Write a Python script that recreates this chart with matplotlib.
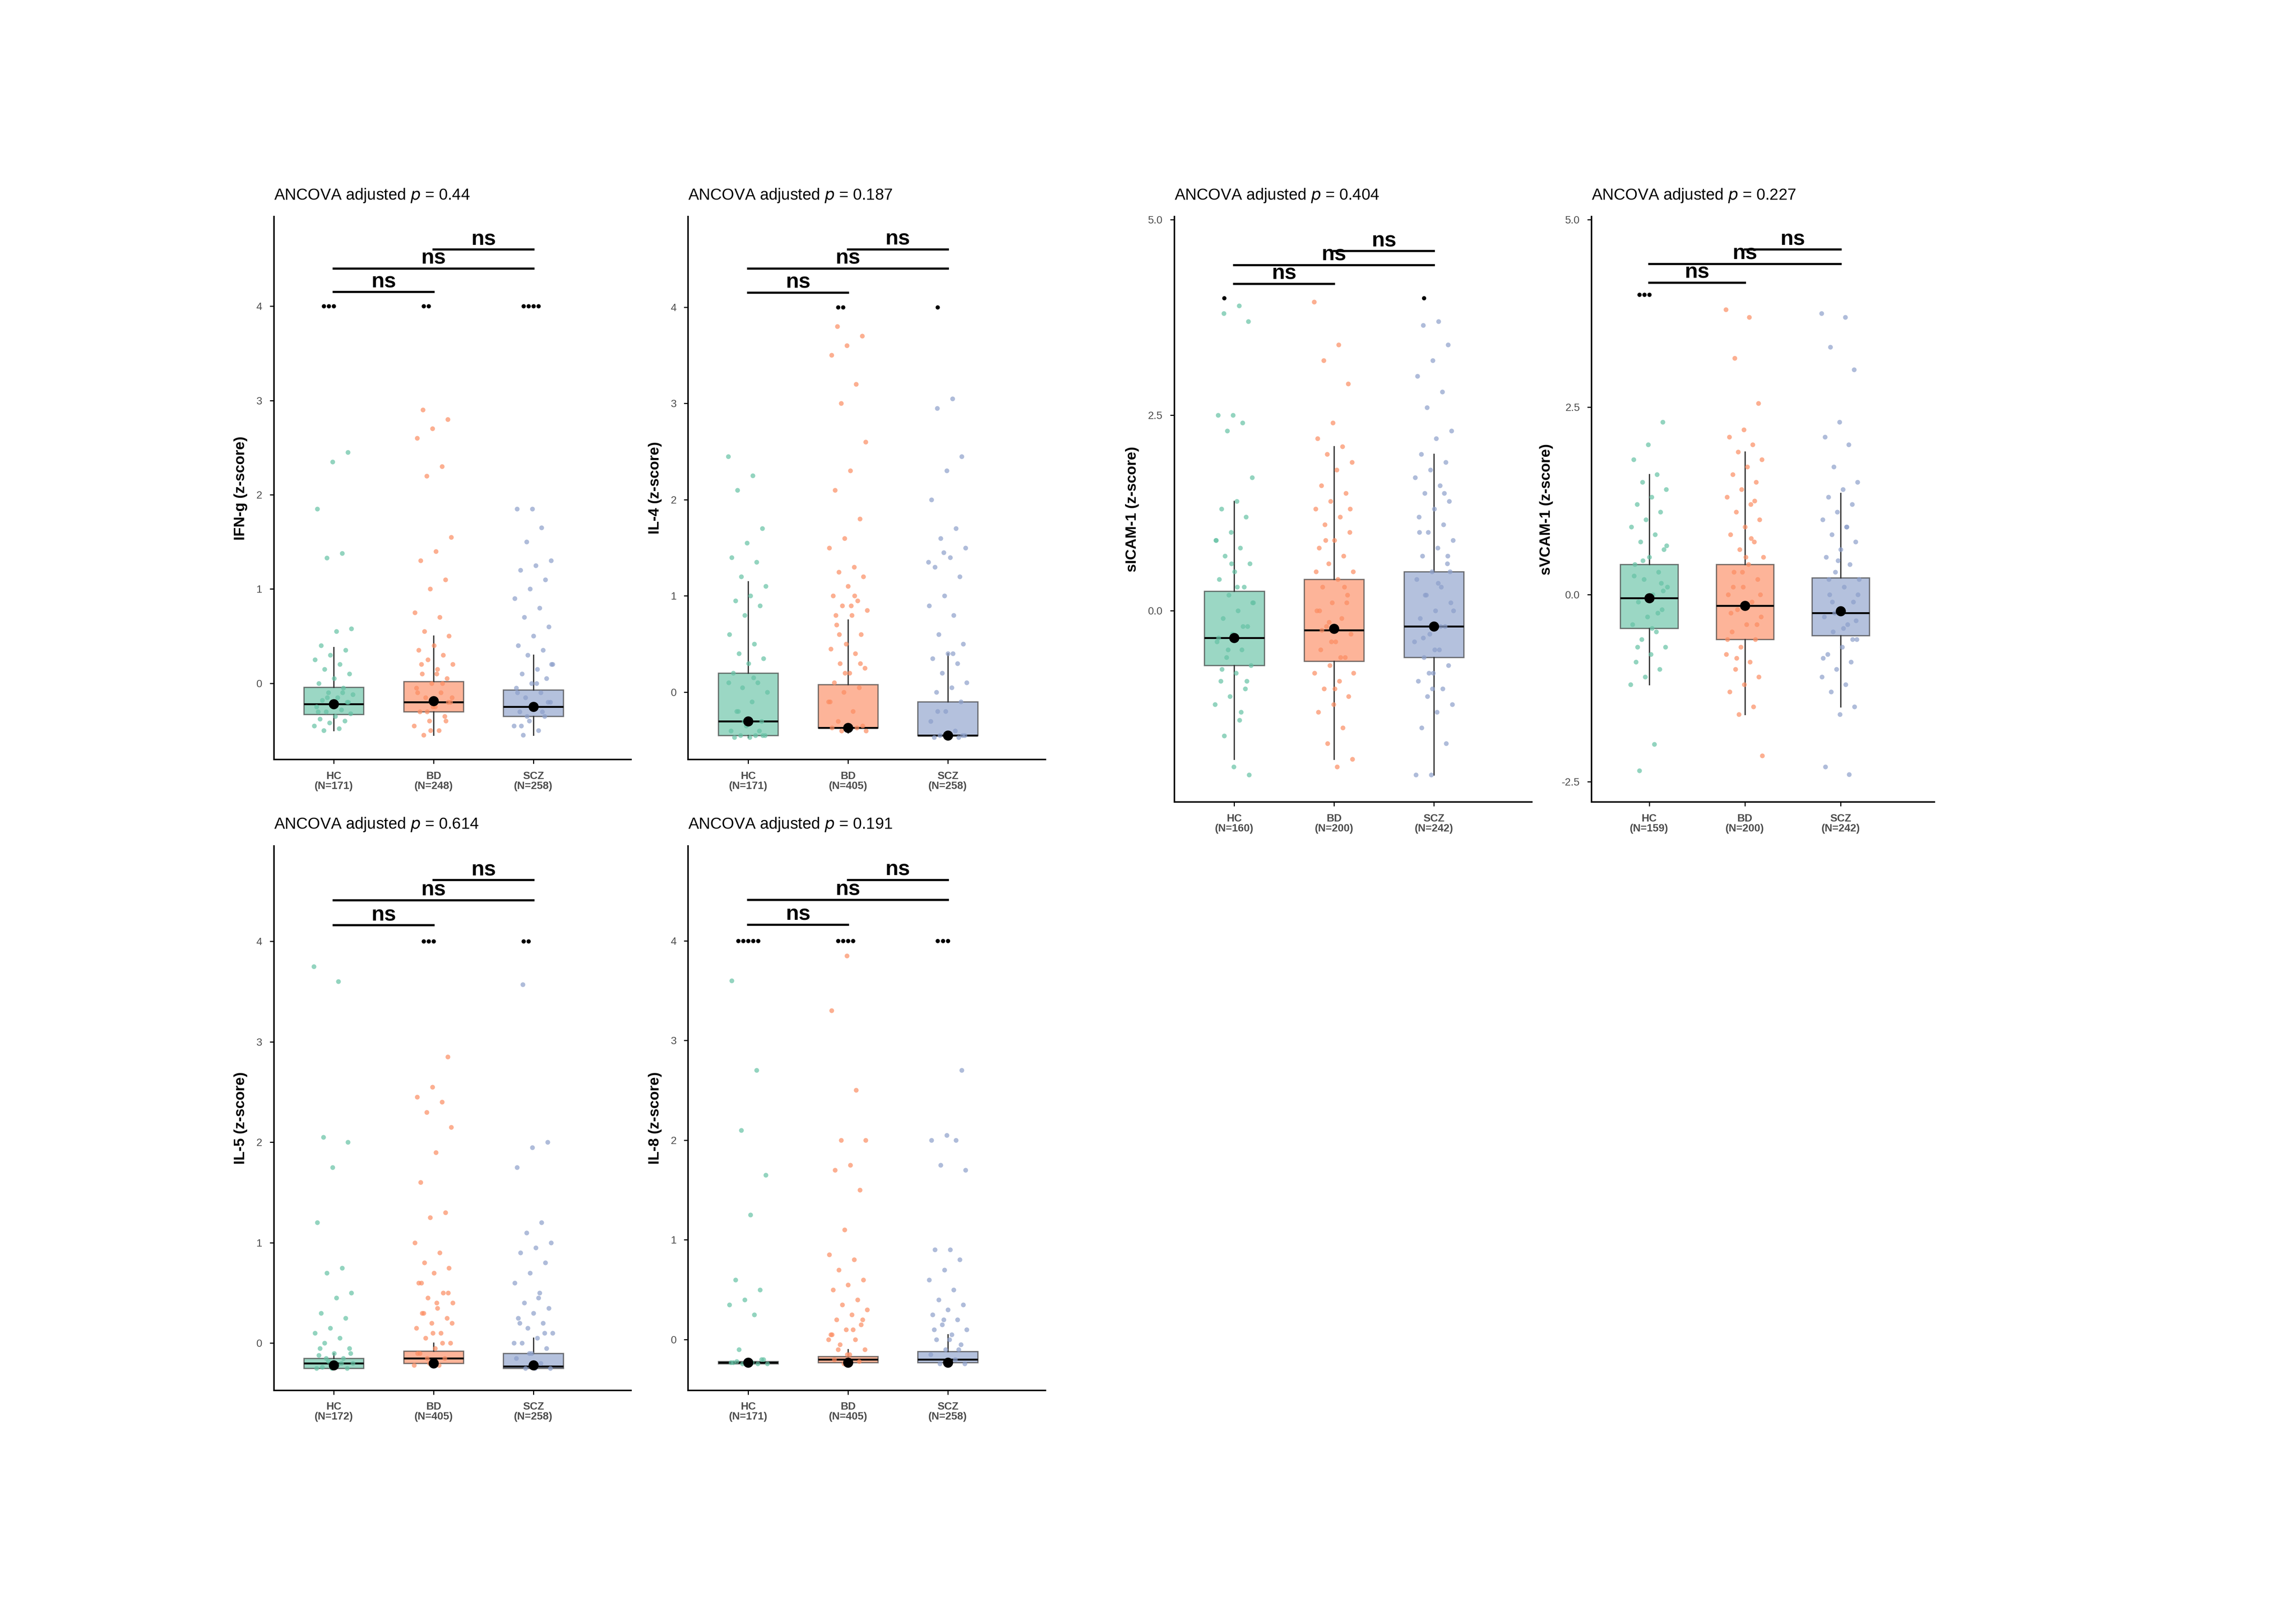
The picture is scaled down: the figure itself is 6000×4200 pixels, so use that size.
import numpy as np
import matplotlib
matplotlib.use("Agg")
import matplotlib.pyplot as plt

groups = ["HC", "BD", "SCZ"]
colors = ["#66C2A5", "#FC8D62", "#8DA0CB"]

panels = [
 dict(name="IFN-g", p="0.44", n=[171,248,258], ylim=(-0.81,4.95), ticks=[0,1,2,3,4], tl=["0","1","2","3","4"],
      box=[(-0.5,-0.33,-0.22,-0.04,0.38),(-0.55,-0.3,-0.2,0.02,0.5),(-0.55,-0.35,-0.25,-0.07,0.3)],
      mean=[-0.22,-0.19,-0.25], bars=[4.15,4.4,4.6],
      pts=[[4,4,4,2.45,2.35,1.85,1.38,1.33,0.58,0.55,0.4,0.35,0.3,0.25,0.2,0.15,0.1,0.05,0,-0.05,-0.1,-0.12,-0.15,-0.18,-0.2,-0.22,-0.25,-0.28,-0.3,-0.32,-0.35,-0.38,-0.4,-0.42,-0.45,-0.48,-0.5,-0.2,-0.25,-0.3,-0.1,-0.15],
           [4,4,2.9,2.8,2.7,2.6,2.3,2.2,1.55,1.4,1.3,1.1,1.0,0.75,0.7,0.55,0.5,0.4,0.35,0.3,0.25,0.2,0.15,0.1,0.05,0,-0.05,-0.1,-0.15,-0.2,-0.25,-0.3,-0.35,-0.4,-0.45,-0.5,-0.55,-0.2,-0.25,-0.1,0.0,-0.3,-0.15,0.1,0.2,-0.4,-0.5],
           [4,4,4,4,1.85,1.85,1.65,1.5,1.3,1.25,1.2,1.1,1.0,0.9,0.8,0.7,0.6,0.5,0.4,0.35,0.3,0.2,0.15,0.1,0.05,0,-0.05,-0.1,-0.15,-0.2,-0.25,-0.3,-0.35,-0.4,-0.45,-0.5,-0.55,-0.2,-0.25,-0.1,-0.3,-0.35,0.2,0.0,-0.45]]),
 dict(name="IL-4", p="0.187", n=[171,405,258], ylim=(-0.7,4.94), ticks=[0,1,2,3,4], tl=["0","1","2","3","4"],
      box=[(-0.47,-0.45,-0.3,0.2,1.15),(-0.42,-0.37,-0.37,0.08,0.75),(-0.47,-0.45,-0.45,-0.1,0.4)],
      mean=[-0.3,-0.37,-0.45], bars=[4.15,4.4,4.6],
      pts=[[2.45,2.25,2.1,1.7,1.55,1.4,1.35,1.2,1.1,1.0,0.95,0.9,0.8,0.6,0.5,0.4,0.35,0.3,0.2,0.1,0.05,0,-0.1,-0.2,-0.3,-0.35,-0.4,-0.45,-0.45,-0.45,-0.47,-0.47,-0.4,-0.3,0.1,0.15,-0.2,-0.45],
           [4,4,3.8,3.7,3.6,3.5,3.2,3.0,2.6,2.3,2.1,1.8,1.6,1.5,1.3,1.25,1.2,1.1,1.0,0.95,0.9,0.85,0.8,0.7,0.6,0.5,0.45,0.4,0.3,0.25,0.2,0.1,0.05,0,-0.1,-0.2,-0.3,-0.35,-0.37,-0.37,-0.37,-0.4,-0.4,0.9,0.8,0.3,0.2,-0.1,1.0,0.6],
           [4,3.05,2.95,2.45,2.3,2.0,1.7,1.6,1.5,1.4,1.3,1.2,1.0,0.9,0.8,0.6,0.5,0.4,0.35,0.3,0.2,0.1,0.05,0,-0.1,-0.2,-0.3,-0.4,-0.45,-0.45,-0.45,-0.47,-0.47,1.45,1.35,0.4,-0.2,-0.45]]),
 dict(name="sICAM-1", p="0.404", n=[160,200,242], ylim=(-2.45,5.04), ticks=[0,2.5,5], tl=["0.0","2.5","5.0"],
      box=[(-1.9,-0.7,-0.35,0.25,1.4),(-1.9,-0.65,-0.25,0.4,2.1),(-2.1,-0.6,-0.2,0.5,2.0)],
      mean=[-0.35,-0.23,-0.2], bars=[4.18,4.42,4.6],
      pts=[[4,3.9,3.8,3.7,2.5,2.5,2.4,2.3,1.7,1.4,1.3,1.2,1.0,0.9,0.8,0.7,0.6,0.5,0.4,0.3,0.2,0.1,0,-0.1,-0.2,-0.3,-0.4,-0.5,-0.6,-0.7,-0.8,-0.9,-1.0,-1.1,-1.2,-1.4,-1.6,-2.1,-2.0,-0.35,-0.2,-0.5,0.1,0.3,-0.75,-0.9,0.6,0.9,-1.3],
           [3.95,3.4,3.2,2.9,2.4,2.2,2.1,2.0,1.9,1.8,1.6,1.5,1.4,1.3,1.2,1.1,1.0,0.9,0.8,0.7,0.6,0.5,0.4,0.3,0.2,0.1,0,-0.1,-0.2,-0.3,-0.4,-0.5,-0.6,-0.7,-0.8,-0.9,-1.0,-1.1,-1.2,-1.3,-1.5,-1.7,-1.9,-2.0,-0.25,0.1,-0.4,0.5,-0.6,0.9,1.3,-1.0,0.0,0.3,-0.15,-0.8],
           [4,3.7,3.65,3.4,3.2,3.0,2.8,2.6,2.3,2.2,2.0,1.9,1.8,1.7,1.6,1.5,1.4,1.3,1.2,1.1,1.0,0.9,0.8,0.7,0.6,0.5,0.4,0.3,0.2,0.1,0,-0.1,-0.2,-0.3,-0.4,-0.5,-0.6,-0.7,-0.8,-0.9,-1.0,-1.1,-1.2,-1.3,-1.5,-1.7,-2.1,-2.1,-0.2,0.2,0.5,-0.5,1.0,1.5,-0.8,0.0,0.35,-0.35,0.7,-1.0]]),
 dict(name="sVCAM-1", p="0.227", n=[159,200,242], ylim=(-2.77,5.04), ticks=[-2.5,0,2.5,5], tl=["-2.5","0.0","2.5","5.0"],
      box=[(-1.2,-0.45,-0.05,0.4,1.6),(-1.6,-0.6,-0.15,0.4,1.9),(-1.5,-0.55,-0.25,0.22,1.35)],
      mean=[-0.05,-0.15,-0.22], bars=[4.16,4.41,4.6],
      pts=[[4,4,4,2.3,2.0,1.8,1.6,1.5,1.4,1.3,1.2,1.1,1.0,0.9,0.8,0.7,0.6,0.5,0.4,0.3,0.2,0.1,0,-0.1,-0.2,-0.3,-0.4,-0.5,-0.6,-0.7,-0.8,-0.9,-1.0,-1.1,-1.2,-2.0,-2.35,0.05,-0.05,0.25,-0.25,0.45,0.65,-0.45,-0.7,0.15],
           [3.8,3.7,3.15,2.55,2.2,2.1,2.0,1.9,1.8,1.7,1.6,1.5,1.4,1.3,1.2,1.1,1.0,0.9,0.8,0.7,0.6,0.5,0.4,0.3,0.2,0.1,0,-0.1,-0.2,-0.3,-0.4,-0.5,-0.6,-0.7,-0.8,-0.9,-1.0,-1.1,-1.2,-1.3,-1.5,-1.6,-2.15,-0.15,0.1,-0.4,0.3,-0.6,0.75,-0.85,0.0,0.5,-0.25,1.25],
           [3.75,3.7,3.3,3.0,2.3,2.1,2.0,1.7,1.5,1.4,1.3,1.2,1.1,1.0,0.9,0.8,0.7,0.6,0.5,0.4,0.3,0.2,0.1,0,-0.1,-0.2,-0.3,-0.4,-0.5,-0.6,-0.7,-0.8,-0.9,-1.0,-1.1,-1.2,-1.3,-1.5,-1.6,-2.3,-2.4,-0.25,0.0,-0.45,0.2,-0.6,0.45,-0.85,0.9,-0.1,-0.35]]),
 dict(name="IL-5", p="0.614", n=[172,405,258], ylim=(-0.47,4.95), ticks=[0,1,2,3,4], tl=["0","1","2","3","4"],
      box=[(-0.25,-0.25,-0.2,-0.15,-0.1),(-0.22,-0.2,-0.15,-0.08,0.0),(-0.25,-0.25,-0.23,-0.1,0.05)],
      mean=[-0.22,-0.2,-0.22], bars=[4.16,4.41,4.61],
      pts=[[3.75,3.6,2.05,2.0,1.75,1.2,0.75,0.7,0.5,0.45,0.3,0.25,0.15,0.1,0.05,0,-0.05,-0.1,-0.12,-0.15,-0.18,-0.2,-0.22,-0.24,-0.25,-0.25,-0.25,-0.2,-0.15,-0.1,-0.22,-0.05],
           [4,4,4,2.85,2.55,2.45,2.4,2.3,2.15,1.9,1.6,1.3,1.25,1.0,0.9,0.8,0.75,0.7,0.6,0.5,0.45,0.4,0.35,0.3,0.25,0.2,0.15,0.1,0.05,0,-0.05,-0.1,-0.15,-0.2,-0.22,-0.22,0.3,0.5,0.1,-0.1,0.0,-0.15,0.2,0.4,0.6],
           [4,4,3.57,2.0,1.95,1.75,1.2,1.1,1.0,0.95,0.9,0.8,0.7,0.6,0.5,0.4,0.35,0.3,0.25,0.2,0.15,0.1,0.05,0,-0.05,-0.1,-0.15,-0.2,-0.25,-0.25,-0.25,0.2,0.1,-0.1,0.0,0.45]]),
 dict(name="IL-8", p="0.191", n=[171,405,258], ylim=(-0.51,4.95), ticks=[0,1,2,3,4], tl=["0","1","2","3","4"],
      box=[(-0.24,-0.24,-0.23,-0.22,-0.2),(-0.24,-0.23,-0.2,-0.17,-0.1),(-0.24,-0.23,-0.2,-0.12,0.05)],
      mean=[-0.23,-0.23,-0.23], bars=[4.16,4.41,4.61],
      pts=[[4,4,4,4,4,3.6,2.7,2.1,1.65,1.25,0.6,0.5,0.4,0.35,0.25,-0.1,-0.2,-0.22,-0.23,-0.24,-0.24,-0.24,-0.23,-0.22,-0.2,-0.24,-0.23],
           [4,4,4,4,3.85,3.3,2.5,2.0,2.0,1.75,1.7,1.5,1.1,0.85,0.8,0.7,0.6,0.55,0.5,0.4,0.35,0.3,0.25,0.2,0.15,0.1,0.05,0,-0.05,-0.1,-0.15,-0.2,-0.22,-0.24,0.0,0.1,-0.1,0.2,-0.15,0.05],
           [4,4,4,2.7,2.05,2.0,2.0,1.75,1.7,0.9,0.9,0.8,0.7,0.6,0.5,0.4,0.35,0.3,0.25,0.2,0.15,0.1,0.05,0,-0.05,-0.1,-0.15,-0.2,-0.24,-0.24,0.0,0.1,-0.1,0.2]]),
]

W, H = 1568, 1098
rects = [(187,148,431,519),(470,148,714,519),(802,148,1046,548),(1087,148,1321,548),
         (187,578,431,950),(470,578,714,950)]

fig = plt.figure(figsize=(15, 10.5), dpi=400)
plt.rcParams['font.family'] = ['Liberation Sans', 'DejaVu Sans']

for P, (l, t, r, b) in zip(panels, rects):
    ax = fig.add_axes([l/W, 1-b/H, (r-l)/W, (b-t)/H])
    for i in range(3):
        x0 = i + 1
        vals = np.array(P["pts"][i])
        lo, q1, md, q3, hi = P["box"][i]
        inlier = vals < 3.99
        k = np.arange(len(vals))
        jit = ((k * 0.6180339) % 1 - 0.5) * 0.4
        ax.scatter(x0 + jit[inlier], vals[inlier], s=5, color=colors[i], alpha=0.7, lw=0, zorder=2)
        out = vals[~inlier]
        for j, v in enumerate(out):
            ax.scatter(x0 - 0.1 + j*0.05, v, s=4, color="black", lw=0, zorder=3)
        ax.bxp([dict(whislo=lo, q1=q1, med=md, q3=q3, whishi=hi, fliers=[])], positions=[x0],
               widths=0.6, patch_artist=True, showcaps=False,
               boxprops=dict(facecolor=colors[i], alpha=0.65, edgecolor="#333333", lw=0.6),
               medianprops=dict(color="black", lw=0.9), whiskerprops=dict(color="#333333", lw=0.6), zorder=1)
        ax.scatter([x0], [P["mean"][i]], s=14, color="black", zorder=4)
    for (a, c), y in zip([(1, 2), (1, 3), (2, 3)], P["bars"]):
        ax.plot([a, c], [y, y], color="black", lw=1.0)
        ax.text((a + c) / 2, y, "ns", ha="center", va="bottom", fontsize=10, fontweight="bold")
    ax.set_xlim(0.4, 3.98)
    ax.set_ylim(*P["ylim"])
    ax.set_yticks(P["ticks"])
    ax.set_yticklabels(P["tl"], fontsize=5, color="#4D4D4D")
    ax.set_xticks([1, 2, 3])
    ax.set_xticklabels([f"{g}\n(N={n})" for g, n in zip(groups, P["n"])], fontsize=5,
                       fontweight="bold", color="#4D4D4D", linespacing=1.0)
    ax.tick_params(length=2, width=0.5)
    for s in ["top", "right"]:
        ax.spines[s].set_visible(False)
    for s in ["left", "bottom"]:
        ax.spines[s].set_linewidth(0.7)
    ax.set_ylabel(f"{P['name']} (z-score)", fontsize=7, fontweight="bold")
    ax.set_title(f"ANCOVA adjusted $p$ = {P['p']}", loc="left", fontsize=7.5, pad=8)

fig.savefig("out.png", dpi=400)
